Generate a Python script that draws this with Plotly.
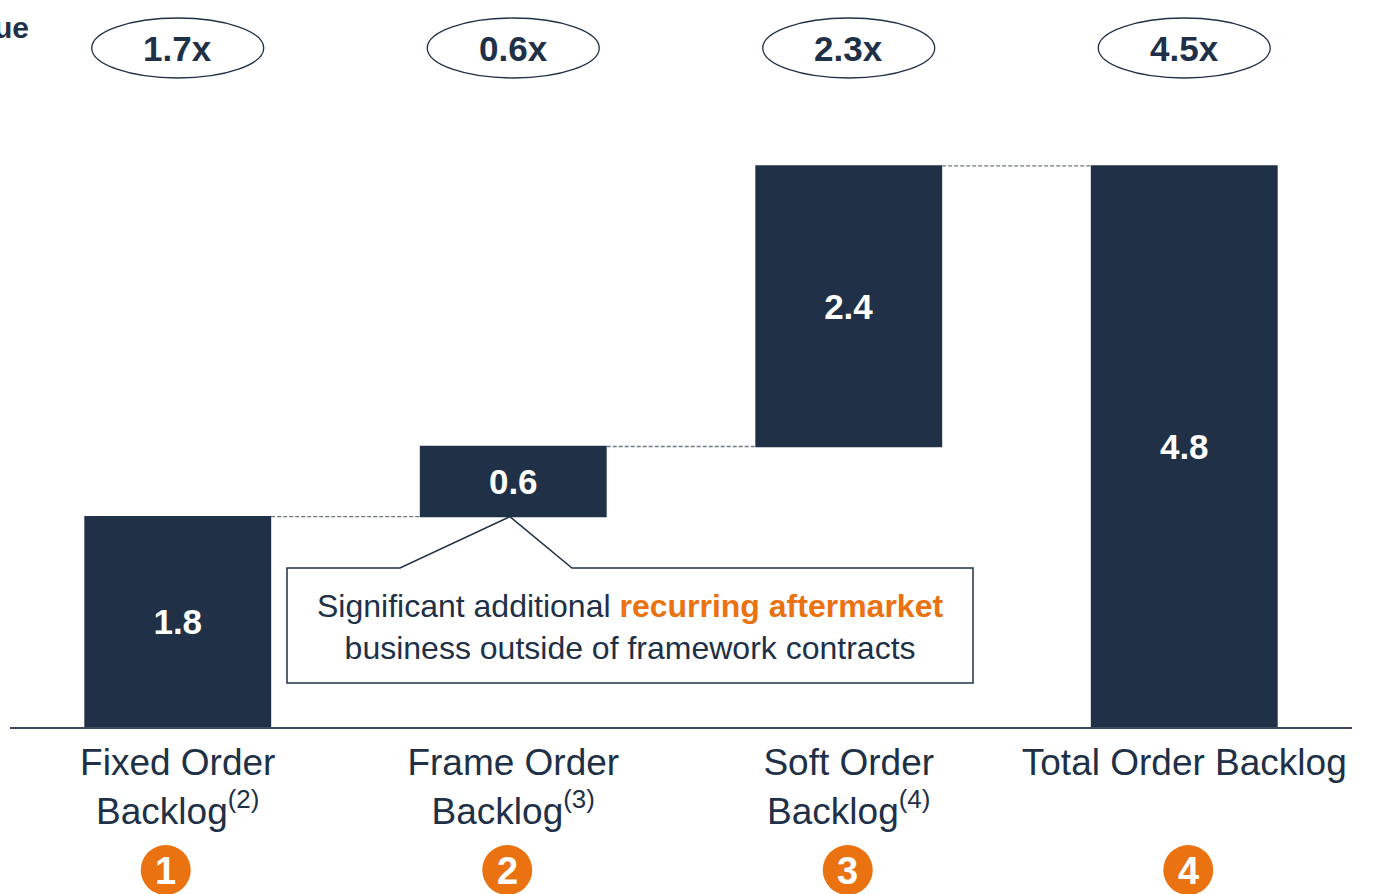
import plotly.graph_objects as go

# Order backlog bridge (EUR bn) and revenue multiples
categories = ["Fixed Order<br>Backlog<sup>(2)</sup>",
              "Frame Order<br>Backlog<sup>(3)</sup>",
              "Soft Order<br>Backlog<sup>(4)</sup>",
              "Total Order Backlog"]
values = [1.8, 0.6, 2.4, 4.8]
measures = ["relative", "relative", "relative", "total"]
multiples = [1.7, 0.6, 2.3, 4.5]
step_numbers = ["1", "2", "3", "4"]

NAVY = "#203046"
ORANGE = "#EA7211"
GRAY = "#6f7884"
FONT = "Liberation Sans, Arial, sans-serif"

W, H = 1388, 894
ML, MR, MT, MB = 10, 36, 0, 167
PLOT_H = H - MT - MB
Y_TOP = 6.22
X_RANGE = [-0.5, 3.5]

xs = list(range(len(categories)))

fig = go.Figure()
fig.add_trace(go.Waterfall(
    x=xs,
    y=values,
    measure=measures,
    width=0.557,
    text=[f"<b>{v:.1f}</b>" for v in values],
    textposition="inside",
    insidetextanchor="middle",
    textfont=dict(family=FONT, size=35, color="white"),
    increasing=dict(marker=dict(color=NAVY, line=dict(width=0))),
    decreasing=dict(marker=dict(color=NAVY, line=dict(width=0))),
    totals=dict(marker=dict(color=NAVY, line=dict(width=0))),
    connector=dict(mode="between", line=dict(color=GRAY, width=1.3, dash="4px,2px")),
    hoverinfo="skip",
    showlegend=False,
))


def px_to_y(py):
    """Pixel row -> y data value (plot area starts at the top of the page)."""
    return (MT + PLOT_H - py) / PLOT_H * Y_TOP


def px_to_ypaper(py):
    return (MT + PLOT_H - py) / PLOT_H


def x_to_paper(x):
    return (x - X_RANGE[0]) / (X_RANGE[1] - X_RANGE[0])


x_unit = (W - ML - MR) / (X_RANGE[1] - X_RANGE[0])

shapes = []
annotations = []

# Multiple ellipses above each bar
for i, m in enumerate(multiples):
    half_w = 86 / x_unit
    shapes.append(dict(type="circle", xref="x", yref="y",
                       x0=i - half_w, x1=i + half_w,
                       y0=px_to_y(78), y1=px_to_y(18),
                       line=dict(color=NAVY, width=1.3),
                       fillcolor="white", layer="above"))
    annotations.append(dict(x=i, y=px_to_y(48), xref="x", yref="y",
                            xanchor="center", yanchor="middle",
                            text=f"<b>{m:.1f}x</b>", showarrow=False,
                            font=dict(family=FONT, size=35, color=NAVY)))

# Numbered step markers below the axis labels
nudges_px = [-12, -6, -1, 4]
r_px = 25
for i, (num, dx) in enumerate(zip(step_numbers, nudges_px)):
    cx = x_to_paper(i) + dx / (W - ML - MR)
    rx = r_px / (W - ML - MR)
    shapes.append(dict(type="circle", xref="paper", yref="paper",
                       x0=cx - rx, x1=cx + rx,
                       y0=px_to_ypaper(870 + r_px), y1=px_to_ypaper(870 - r_px),
                       line=dict(width=0), fillcolor=ORANGE))
    annotations.append(dict(x=cx, y=px_to_ypaper(871), xref="paper", yref="paper",
                            xanchor="center", yanchor="middle",
                            text=f"<b>{num}</b>", showarrow=False,
                            font=dict(family=FONT, size=38, color="white")))

# Callout box pointing at the frame order bar
bx0, bx1 = (287 - 177.75) / x_unit, (973 - 177.75) / x_unit
px0, px1 = (400 - 177.75) / x_unit, (572 - 177.75) / x_unit
tip_x = 0.99
tip_y = values[0]
by0, by1 = px_to_y(683), px_to_y(568)
path = (f"M {bx0},{by1} L {px0},{by1} L {tip_x},{tip_y} L {px1},{by1} "
        f"L {bx1},{by1} L {bx1},{by0} L {bx0},{by0} Z")
shapes.append(dict(type="path", xref="x", yref="y", path=path,
                   line=dict(color=NAVY, width=1.5), fillcolor="white",
                   layer="above"))
annotations.append(dict(
    x=(bx0 + bx1) / 2, y=px_to_y(627), xref="x", yref="y",
    xanchor="center", yanchor="middle",
    text=("Significant additional "
          f"<span style='color:{ORANGE}'><b>recurring aftermarket</b></span>"
          "<br>business outside of framework contracts"),
    showarrow=False, align="center",
    font=dict(family=FONT, size=32, color=NAVY)))

# Chart title (runs off the left edge of the page)
annotations.append(dict(x=(31 - ML) / (W - ML - MR), y=px_to_ypaper(27),
                        xref="paper", yref="paper",
                        xanchor="right", yanchor="middle",
                        text="<b>Revenue</b>", showarrow=False,
                        font=dict(family=FONT, size=30, color=NAVY)))

fig.update_layout(
    width=W, height=H,
    margin=dict(l=ML, r=MR, t=MT, b=MB, pad=0),
    paper_bgcolor="white", plot_bgcolor="white",
    shapes=shapes, annotations=annotations,
    font=dict(family=FONT, color=NAVY),
    xaxis=dict(range=X_RANGE, tickvals=xs, ticktext=categories,
               showline=True, linecolor="#3f4b5c", linewidth=2,
               ticks="", showgrid=False, zeroline=False,
               ticklabelstandoff=2,
               tickfont=dict(family=FONT, size=37, color=NAVY),
               fixedrange=True),
    yaxis=dict(range=[0, Y_TOP], visible=False, fixedrange=True),
    hovermode=False,
)

fig.write_html("out.html")
